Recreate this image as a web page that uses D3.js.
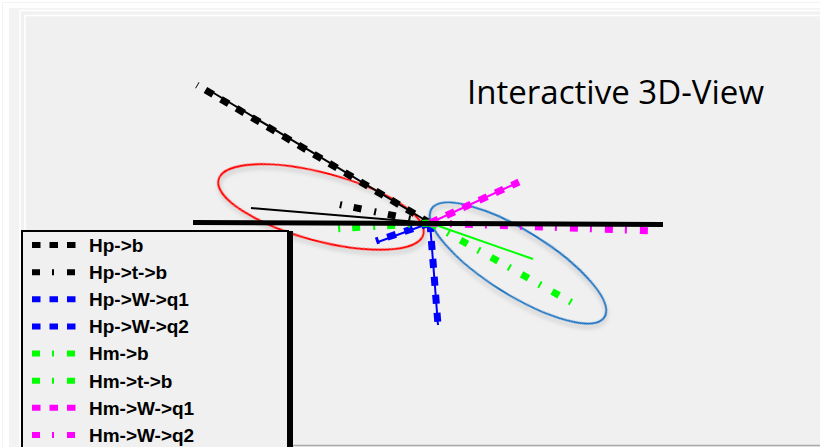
<!DOCTYPE html>
<html>
<head>
<meta charset="utf-8">
<script src="https://cdn.jsdelivr.net/npm/d3@7"></script>
<style>
  html, body { margin: 0; padding: 0; background: #ffffff; }
  svg { display: block; }
</style>
</head>
<body>
<svg id="view" width="820" height="447"></svg>
<script>
// Decay products of the two Higgs candidates, projected into the view plane.
const series = ["Hp->b", "Hp->t->b", "Hp->W->q1", "Hp->W->q2", "Hm->b", "Hm->t->b", "Hm->W->q1", "Hm->W->q2"];
const colors = ["#000000", "#000000", "#0000ff", "#0000ff", "#00ff00", "#00ff00", "#ff00ff", "#ff00ff"];
const dashKinds = ["dash", "dashdot", "dash", "dash", "dashdot", "dashdot", "dash", "dashdot"];
// tip of each direction vector (view units, origin at the vertex)
const tipX = [-2.33, -0.93, 0.08, -0.54, 1.48, -0.96, 0.89, 2.22];
const tipY = [1.38, 0.19, -1.02, -0.18, -0.83, -0.06, 0.41, -0.08];

// thin reference tracks drawn under the dashed directions
const trackColors = ["#000000", "#000000", "#0000ff", "#0000ff", "#00ff00", "#ff00ff"];
const trackX = [-2.18, -1.79, 0.08, -0.52, 1.03, 0.87];
const trackY = [1.31, 0.15, -1.02, -0.19, -0.36, 0.40];

// beam axis
const axisX = [-2.37, 2.33];
const axisY = [0.005, -0.015];

// grouping ellipses: centre, half axes, tilt (degrees)
const groupNames = ["Hp", "Hm"];
const groupColors = ["#ff0000", "#1b76c2"];
const groupCx = [-1.09, 0.88];
const groupCy = [0.16, -0.40];
const groupRx = [1.06, 1.02];
const groupRy = [0.34, 0.32];
const groupTilt = [15, 32];

const title = "Interactive 3D-View";

const W = 820, H = 447;
const svg = d3.select("#view");

const x = d3.scaleLinear().domain([-1, 1]).range([330, 530]);
const y = d3.scaleLinear().domain([-1, 1]).range([323, 123]);
const px = d3.scaleLinear().domain([0, 1]).range([0, 100]); // view units -> pixels (lengths)

const dashPattern = { dash: "9,9", dashdot: "8,12,2,13" };
const legendPattern = { dash: "8.5,9", dashdot: "8,12,2,13" };

const defs = svg.append("defs");
const shadow = defs.append("filter").attr("id", "soft")
  .attr("x", "-20%").attr("y", "-20%").attr("width", "140%").attr("height", "140%");
shadow.append("feDropShadow").attr("dx", 2).attr("dy", 3).attr("stdDeviation", 2)
  .attr("flood-color", "#7f7f7f").attr("flood-opacity", 0.45);

// nested panel frames
svg.append("rect").attr("x", 2.5).attr("y", 2.5).attr("width", W).attr("height", H)
  .attr("fill", "#ffffff").attr("stroke", "#f3f3f3");
svg.append("rect").attr("x", 9).attr("y", 8).attr("width", W).attr("height", H).attr("fill", "#f3f3f3");
svg.append("rect").attr("x", 20).attr("y", 10.5).attr("width", W).attr("height", H)
  .attr("fill", "#f1f1f1").attr("stroke", "#ffffff").attr("stroke-width", 1.5);
svg.append("rect").attr("x", 25).attr("y", 15.5).attr("width", W).attr("height", H)
  .attr("fill", "#f0f0f0").attr("stroke", "#ffffff").attr("stroke-width", 1.5);
svg.append("line").attr("x1", 293).attr("x2", W).attr("y1", 445.5).attr("y2", 445.5)
  .attr("stroke", "#a9a9a9").attr("stroke-width", 1.5);

// title
svg.append("text").attr("x", 467).attr("y", 104)
  .attr("font-family", "'Open Sans', sans-serif").attr("font-size", 32)
  .attr("textLength", 297).attr("lengthAdjust", "spacingAndGlyphs")
  .attr("fill", "#000000").text(title);

// grouping ellipses
svg.append("g").selectAll("ellipse").data(groupNames).join("ellipse")
  .attr("cx", 0).attr("cy", 0)
  .attr("rx", (d, i) => px(groupRx[i])).attr("ry", (d, i) => px(groupRy[i]))
  .attr("transform", (d, i) => `translate(${x(groupCx[i])},${y(groupCy[i])}) rotate(${groupTilt[i]})`)
  .attr("fill", "none").attr("stroke", (d, i) => groupColors[i]).attr("stroke-width", 2)
  .attr("filter", "url(#soft)");

// thin tracks
svg.append("g").selectAll("line").data(trackColors).join("line")
  .attr("x1", x(0)).attr("y1", y(0))
  .attr("x2", (d, i) => x(trackX[i])).attr("y2", (d, i) => y(trackY[i]))
  .attr("stroke", d => d).attr("stroke-width", 2);

// dashed direction lines
svg.append("g").selectAll("line").data(series).join("line")
  .attr("x1", x(0)).attr("y1", y(0))
  .attr("x2", (d, i) => x(tipX[i])).attr("y2", (d, i) => y(tipY[i]))
  .attr("stroke", (d, i) => colors[i]).attr("stroke-width", 7)
  .attr("stroke-dasharray", (d, i) => dashPattern[dashKinds[i]]);

// beam axis, on top of the directions
svg.append("line")
  .attr("x1", x(axisX[0])).attr("y1", y(axisY[0]))
  .attr("x2", x(axisX[1])).attr("y2", y(axisY[1]))
  .attr("stroke", "#000000").attr("stroke-width", 5);

// legend
const legend = svg.append("g");
const ly = d3.scalePoint().domain(series).range([245, 435]);
legend.append("rect").attr("x", 288).attr("y", 231).attr("width", 5).attr("height", H)
  .attr("fill", "#000000");
legend.append("rect").attr("x", 22).attr("y", 231).attr("width", 266).attr("height", H)
  .attr("fill", "#f0f0f0").attr("stroke", "#000000").attr("stroke-width", 2);
const rows = legend.selectAll("g.row").data(series).join("g").attr("class", "row")
  .attr("transform", d => `translate(0,${ly(d)})`);
rows.append("line").attr("x1", 32).attr("x2", 77).attr("y1", 0).attr("y2", 0)
  .attr("stroke", (d, i) => colors[i]).attr("stroke-width", 6)
  .attr("stroke-dasharray", (d, i) => legendPattern[dashKinds[i]]);
rows.append("text").attr("x", 89).attr("y", 0).attr("dy", "0.36em")
  .attr("font-family", "'Liberation Sans', Arial, sans-serif").attr("font-weight", "bold")
  .attr("font-size", 19).attr("fill", "#000000").text(d => d);
</script>
</body>
</html>
